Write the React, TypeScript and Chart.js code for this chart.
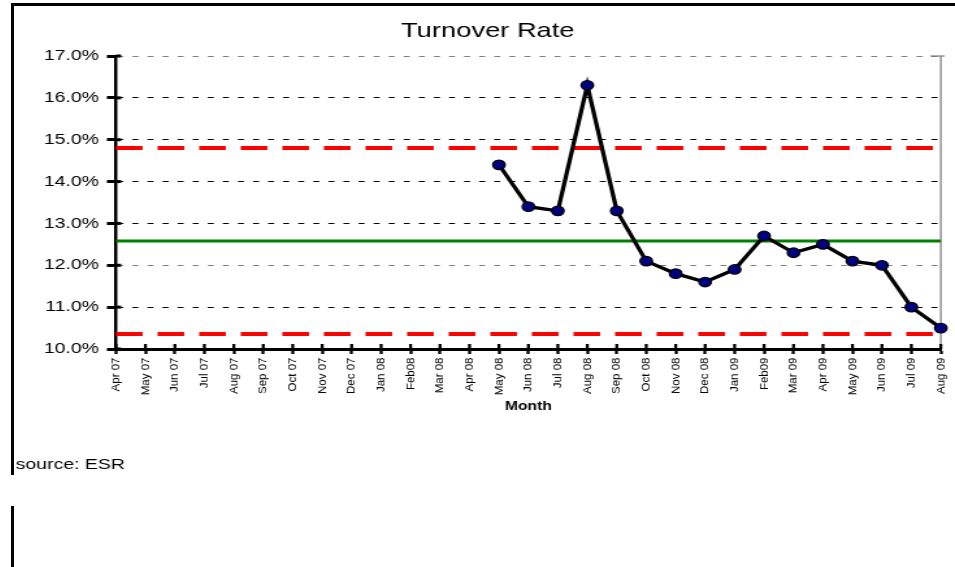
import React, { useEffect, useRef } from 'react';
import { Chart, registerables } from 'chart.js';

Chart.register(...registerables);

// ---- data ----
const months = [
  'Apr 07', 'May 07', 'Jun 07', 'Jul 07', 'Aug 07', 'Sep 07', 'Oct 07', 'Nov 07', 'Dec 07',
  'Jan 08', 'Feb08', 'Mar 08', 'Apr 08', 'May 08', 'Jun 08', 'Jul 08', 'Aug 08', 'Sep 08',
  'Oct 08', 'Nov 08', 'Dec 08', 'Jan 09', 'Feb09', 'Mar 09', 'Apr 09', 'May 09', 'Jun 09',
  'Jul 09', 'Aug 09',
];

const turnoverRate = [
  null, null, null, null, null, null, null, null, null, null, null, null, null,
  14.4, 13.4, 13.3, 16.3, 13.3, 12.1, 11.8, 11.6, 11.9, 12.7, 12.3, 12.5, 12.1, 12.0, 11.0, 10.5,
];

const upperLimit = [
  14.8, 14.8, 14.8, 14.8, 14.8, 14.8, 14.8, 14.8, 14.8, 14.8, 14.8, 14.8, 14.8, 14.8, 14.8,
  14.8, 14.8, 14.8, 14.8, 14.8, 14.8, 14.8, 14.8, 14.8, 14.8, 14.8, 14.8, 14.8, 14.8,
];

const meanLine = [
  12.58, 12.58, 12.58, 12.58, 12.58, 12.58, 12.58, 12.58, 12.58, 12.58, 12.58, 12.58, 12.58,
  12.58, 12.58, 12.58, 12.58, 12.58, 12.58, 12.58, 12.58, 12.58, 12.58, 12.58, 12.58, 12.58,
  12.58, 12.58, 12.58,
];

const lowerLimit = [
  10.36, 10.36, 10.36, 10.36, 10.36, 10.36, 10.36, 10.36, 10.36, 10.36, 10.36, 10.36, 10.36,
  10.36, 10.36, 10.36, 10.36, 10.36, 10.36, 10.36, 10.36, 10.36, 10.36, 10.36, 10.36, 10.36,
  10.36, 10.36, 10.36,
];

const yMin = 10;
const yMax = 17;
const yStep = 1;
const grayGridValues = [17, 12];

const titleText = 'Turnover Rate';
const xAxisTitle = 'Month';
const sourceText = 'source: ESR';

// ---- layout (stretched canvas) ----
const S = 1.3; // horizontal stretch
const W = 724;
const H = 469;
const FONT = '"Liberation Sans", Arial, Helvetica, sans-serif';

const extrasPlugin = {
  id: 'extras',
  beforeDatasetsDraw(chart: any) {
    const { ctx, chartArea, scales } = chart;
    const x = scales.x;
    const y = scales.y;
    ctx.save();
    // right plot border
    ctx.strokeStyle = '#707070';
    ctx.lineWidth = 1.1;
    ctx.beginPath();
    ctx.moveTo(chartArea.right, chartArea.top);
    ctx.lineTo(chartArea.right, chartArea.bottom);
    ctx.stroke();
    ctx.beginPath();
    ctx.moveTo(chartArea.right - 8, chartArea.top);
    ctx.lineTo(chartArea.right + 3, chartArea.top);
    ctx.stroke();
    // inner y ticks
    ctx.strokeStyle = '#000';
    ctx.lineWidth = 3;
    y.ticks.forEach((_t: any, i: number) => {
      const py = y.getPixelForTick(i);
      ctx.beginPath();
      ctx.moveTo(y.right, py);
      ctx.lineTo(y.right + 4, py);
      ctx.stroke();
    });
    // inner x ticks
    ctx.lineWidth = 2.3;
    x.ticks.forEach((_t: any, i: number) => {
      const px = x.getPixelForTick(i);
      ctx.beginPath();
      ctx.moveTo(px, x.top);
      ctx.lineTo(px, x.top - 5);
      ctx.stroke();
    });
    ctx.restore();
  },
  afterDraw(chart: any) {
    const { ctx, scales } = chart;
    const x = scales.x;
    const labels = chart.data.labels as string[];
    ctx.save();
    ctx.fillStyle = '#000';
    ctx.font = `11.5px ${FONT}`;
    ctx.textAlign = 'right';
    ctx.textBaseline = 'middle';
    labels.forEach((m, i) => {
      const px = x.getPixelForTick(i);
      ctx.save();
      ctx.translate(px, x.top + 8.5);
      ctx.scale(1 / S, 1);
      ctx.rotate(-Math.PI / 2);
      ctx.fillText(m, 0, 0);
      ctx.restore();
    });
    ctx.font = `15px ${FONT}`;
    ctx.textAlign = 'left';
    ctx.textBaseline = 'alphabetic';
    ctx.fillText(sourceText, 1.2, 463);
    ctx.restore();
  },
};

export default function App() {
  const ref = useRef<HTMLCanvasElement | null>(null);

  useEffect(() => {
    if (!ref.current) return;
    const chart = new Chart(ref.current, {
      type: 'line',
      data: {
        labels: months,
        datasets: [
          {
            label: 'Turnover rate',
            data: turnoverRate,
            borderColor: '#000',
            borderWidth: 3.3,
            pointRadius: 4.8,
            pointBackgroundColor: '#000080',
            pointBorderColor: '#000',
            pointBorderWidth: 1.2,
            tension: 0,
          },
          {
            label: 'Upper limit',
            data: upperLimit,
            borderColor: '#ff0000',
            borderWidth: 4,
            borderDash: [20.5, 11.5],
            pointRadius: 0,
          },
          {
            label: 'Mean',
            data: meanLine,
            borderColor: '#008000',
            borderWidth: 3,
            pointRadius: 0,
          },
          {
            label: 'Lower limit',
            data: lowerLimit,
            borderColor: '#ff0000',
            borderWidth: 4,
            borderDash: [20.5, 11.5],
            pointRadius: 0,
          },
        ],
      },
      options: {
        responsive: false,
        animation: false,
        devicePixelRatio: 1,
        events: [],
        layout: { padding: { left: 16, right: W - 713.08, top: 0, bottom: 51 } },
        plugins: {
          legend: { display: false },
          tooltip: { enabled: false },
          title: {
            display: true,
            text: titleText,
            color: '#000',
            font: { family: FONT, size: 21, weight: 'normal' },
            padding: { top: 12.6, bottom: 12.2 },
          },
        },
        scales: {
          x: {
            type: 'category',
            offset: false,
            afterFit: (scale: any) => {
              scale.height = 75;
            },
            grid: {
              display: true,
              drawOnChartArea: false,
              drawTicks: true,
              tickLength: 5,
              tickWidth: 2.3,
              tickColor: '#000',
            },
            border: { display: true, color: '#000', width: 3 },
            ticks: { display: false, autoSkip: false, maxRotation: 90, minRotation: 90 },
            title: {
              display: true,
              text: xAxisTitle,
              color: '#000',
              font: { family: FONT, size: 12, weight: 'bold' },
              padding: { top: 0, bottom: 9.8 },
            },
          },
          y: {
            min: yMin,
            max: yMax,
            afterFit: (scale: any) => {
              scale.width = 62.46;
            },
            grid: {
              display: true,
              drawOnChartArea: true,
              drawTicks: true,
              lineWidth: 1,
              color: (c: any) =>
                c.tick && grayGridValues.includes(c.tick.value) ? '#808080' : '#000',
              tickLength: 7,
              tickWidth: 3,
              tickColor: '#000',
            },
            border: { display: true, color: '#000', width: 2.5, dash: [4.6, 7] },
            ticks: {
              stepSize: yStep,
              color: '#000',
              padding: 6,
              font: { family: FONT, size: 15 },
              callback: (v: any) => `${Number(v).toFixed(1)}%`,
            },
          },
        },
      },
      plugins: [extrasPlugin],
    } as any);
    return () => chart.destroy();
  }, []);

  return (
    <div
      style={{
        position: 'fixed',
        left: 0,
        top: 0,
        width: 955,
        height: 567,
        background: '#fff',
        overflow: 'hidden',
      }}
    >
      <div style={{ position: 'absolute', left: 11, top: 3, width: 960, height: 3, background: '#000' }} />
      <div style={{ position: 'absolute', left: 11, top: 3, width: 3, height: 472, background: '#000' }} />
      <div style={{ position: 'absolute', left: 11, top: 506, width: 3, height: 70, background: '#000' }} />
      <canvas
        ref={ref}
        width={W}
        height={H}
        style={{ position: 'absolute', left: 14, top: 6, width: W * S, height: H }}
      />
    </div>
  );
}
